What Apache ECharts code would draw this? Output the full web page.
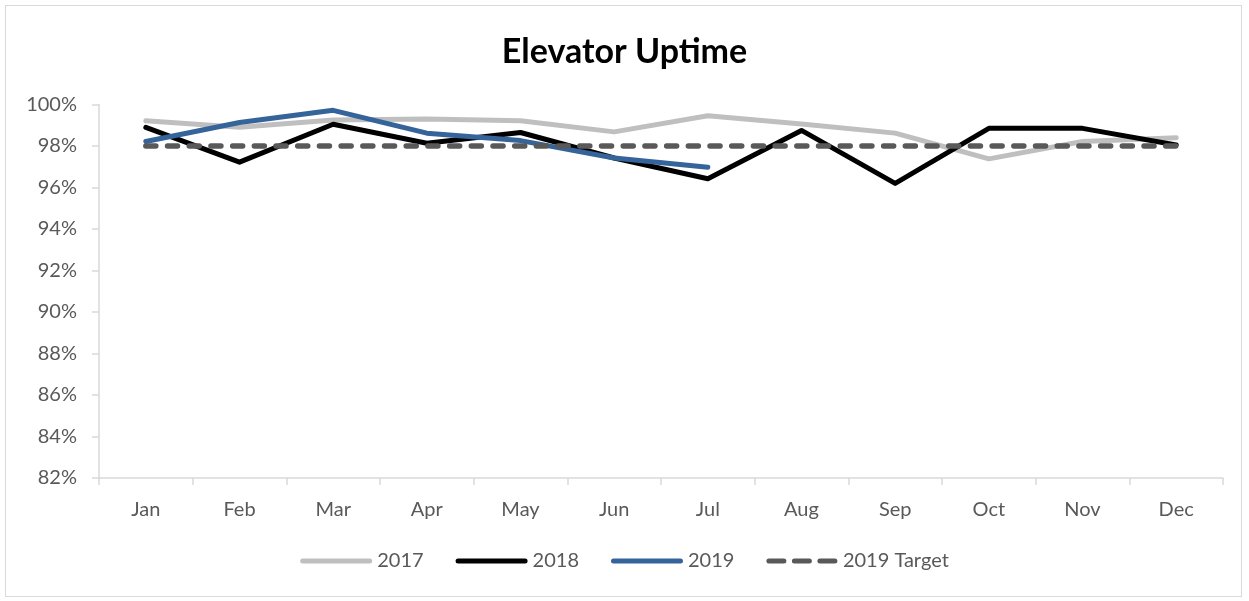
<!DOCTYPE html>
<html>
<head>
<meta charset="utf-8">
<script src="https://cdn.jsdelivr.net/npm/echarts@6/dist/echarts.min.js"></script>
<style>
  html, body { margin: 0; padding: 0; background: #fff; }
  #frame { position: absolute; left: 5px; top: 5px; width: 1237px; height: 592px; border: 1px solid #d9d9d9; box-sizing: border-box; }
  #chart { width: 1249px; height: 601px; }
</style>
</head>
<body>
<div id="frame"></div>
<div id="chart"></div>
<script>
// Monthly elevator uptime, in percent
const months = ['Jan', 'Feb', 'Mar', 'Apr', 'May', 'Jun', 'Jul', 'Aug', 'Sep', 'Oct', 'Nov', 'Dec'];
const uptime2017 = [99.22, 98.9, 99.25, 99.3, 99.22, 98.68, 99.46, 99.06, 98.62, 97.38, 98.22, 98.4];
const uptime2018 = [98.9, 97.22, 99.05, 98.13, 98.65, 97.42, 96.42, 98.75, 96.2, 98.85, 98.85, 98.05];
const uptime2019 = [98.22, 99.13, 99.72, 98.62, 98.26, 97.42, 96.98];
const target2019 = [98, 98, 98, 98, 98, 98, 98, 98, 98, 98, 98, 98];

const FONT = 'Lato, "Noto Sans", sans-serif';
const chart = echarts.init(document.getElementById('chart'), null, { renderer: 'canvas' });

// Legend key for the dashed target: three rounded dashes across the key box
function pill(x, w) {
  return 'M' + (x + 2.5) + ',0 H' + (x + w - 2.5) + ' A2.5,2.5 0 0 1 ' + (x + w - 2.5) + ',5 H' + (x + 2.5) + ' A2.5,2.5 0 0 1 ' + (x + 2.5) + ',0 Z ';
}
const dashIcon = 'path://' + pill(0, 20) + pill(25.5, 20) + pill(51, 20);
const solidIcon = 'path://' + pill(0, 72);

function lineSeries(name, data, color, extra) {
  return Object.assign({
    name: name,
    type: 'line',
    data: data,
    symbol: 'none',
    smooth: false,
    animation: false,
    itemStyle: { color: color },
    lineStyle: { color: color, width: 5, cap: 'round', join: 'round' }
  }, extra || {});
}

chart.setOption({
  backgroundColor: 'transparent',
  animation: false,
  title: {
    text: 'Elevator Uptime',
    left: 'center',
    top: 30,
    textStyle: { fontFamily: FONT, fontSize: 34, fontWeight: 'bold', color: '#000' }
  },
  legend: {
    bottom: 25,
    left: 'center',
    itemWidth: 72,
    itemHeight: 5,
    itemGap: 32,
    textStyle: { fontFamily: FONT, fontSize: 20, color: '#595959' },
    data: [
      { name: '2017', icon: solidIcon },
      { name: '2018', icon: solidIcon },
      { name: '2019', icon: solidIcon },
      { name: '2019 Target', icon: dashIcon }
    ]
  },
  grid: { left: 99, right: 26, top: 104.5, bottom: 123, containLabel: false },
  xAxis: {
    type: 'category',
    data: months,
    boundaryGap: true,
    axisLine: { show: true, lineStyle: { color: '#d9d9d9', width: 1.5 } },
    axisTick: { show: true, alignWithLabel: false, length: 7, lineStyle: { color: '#d9d9d9', width: 1.5 } },
    axisLabel: { margin: 22, fontFamily: FONT, fontSize: 20, color: '#595959' },
    splitLine: { show: false }
  },
  yAxis: {
    type: 'value',
    min: 82,
    max: 100,
    interval: 2,
    axisLine: { show: true, lineStyle: { color: '#d9d9d9', width: 1.5 } },
    axisTick: { show: true, length: 7, lineStyle: { color: '#d9d9d9', width: 1.5 } },
    axisLabel: { margin: 22, fontFamily: FONT, fontSize: 20, color: '#595959', formatter: '{value}%' },
    splitLine: { show: false }
  },
  series: [
    lineSeries('2017', uptime2017, '#bfbfbf'),
    lineSeries('2018', uptime2018, '#000000'),
    lineSeries('2019', uptime2019, '#35649a'),
    lineSeries('2019 Target', target2019, '#595959', {
      lineStyle: { color: '#595959', width: 5.5, type: [10, 11.7], cap: 'round' }
    })
  ]
});
</script>
</body>
</html>
